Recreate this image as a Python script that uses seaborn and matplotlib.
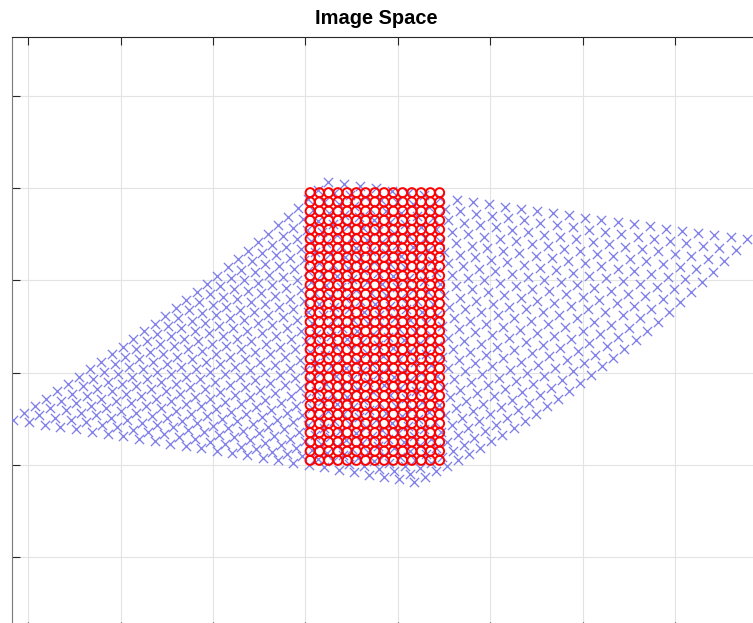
import numpy as np
import pandas as pd
import matplotlib
matplotlib.use("Agg")
import matplotlib.pyplot as plt
import seaborn as sns

# Regular sampling grid (red circles)
grid_cols = [305, 315, 325, 335, 345, 355, 365, 375, 385, 395, 405, 415, 425, 435, 445]
grid_rows = [205, 215, 225, 235, 245, 255, 265, 275, 285, 295,
             305, 315, 325, 335, 345, 355, 365, 375, 385, 395,
             405, 415, 425, 435, 445, 455, 465, 475, 485, 495]

# Warped point lattice (blue crosses): lattice size and 3x3 anchor positions
lattice_shape = (27, 31)
anchor_x = [[-16.5, 159.6, 324.3],
            [204.0, 361.1, 550.3],
            [417.3, 596.8, 777.0]]
anchor_y = [[451.0, 329.8, 193.0],
            [484.5, 366.8, 224.9],
            [518.1, 411.2, 255.6]]

x_ticks = [0, 100, 200, 300, 400, 500, 600, 700, 800]
y_ticks = [100, 200, 300, 400, 500, 600]
x_limits = (-17.3, 823.8)
y_limits = (678.2, 36.4)


def quad_basis(t):
    return np.stack([2 * (t - 0.5) * (t - 1), -4 * t * (t - 1), 2 * t * (t - 0.5)])


su = quad_basis(np.linspace(0, 1, lattice_shape[0]))
sv = quad_basis(np.linspace(0, 1, lattice_shape[1]))
lat_x = su.T @ np.array(anchor_x) @ sv
lat_y = su.T @ np.array(anchor_y) @ sv
warped = pd.DataFrame({"x": lat_x.ravel(), "y": lat_y.ravel()})

gx, gy = np.meshgrid(grid_cols, grid_rows)
regular = pd.DataFrame({"x": gx.ravel(), "y": gy.ravel()})

sns.set_theme(style="white")
plt.rcParams["font.family"] = ["Liberation Sans", "DejaVu Sans"]

fig = plt.figure(figsize=(7.53, 6.23), dpi=100)
ax = fig.add_axes([12 / 753, -6.5 / 623, 778 / 753, 592.5 / 623])

sns.scatterplot(data=warped, x="x", y="y", ax=ax, marker="x",
                color="#8080e8", s=44, linewidth=0.95, zorder=3, legend=False)
sns.scatterplot(data=regular, x="x", y="y", ax=ax, marker="o",
                facecolor="none", edgecolor="#ff0000", s=42, linewidth=1.4,
                zorder=4, legend=False)

ax.set_xlim(*x_limits)
ax.set_ylim(*y_limits)
ax.set_xticks(x_ticks)
ax.set_yticks(y_ticks)
ax.set_xticklabels([])
ax.set_yticklabels([])
ax.set_xlabel("")
ax.set_ylabel("")
ax.grid(True, color="#e3e3e3", linewidth=0.8)
ax.set_axisbelow(True)
ax.tick_params(direction="in", length=6, width=0.8, color="#262626",
               top=True, bottom=True, left=True, right=True)
for side, sp in ax.spines.items():
    sp.set_color("#262626")
    sp.set_linewidth(0.8)
ax.spines["left"].set_color("#7a7a7a")
ax.set_facecolor("white")

fig.text(376.5 / 753, 1 - 19 / 623, "Image Space", ha="center", va="center",
         fontsize=14.4, fontweight="bold", color="black")

fig.savefig("out.png", dpi=100)
